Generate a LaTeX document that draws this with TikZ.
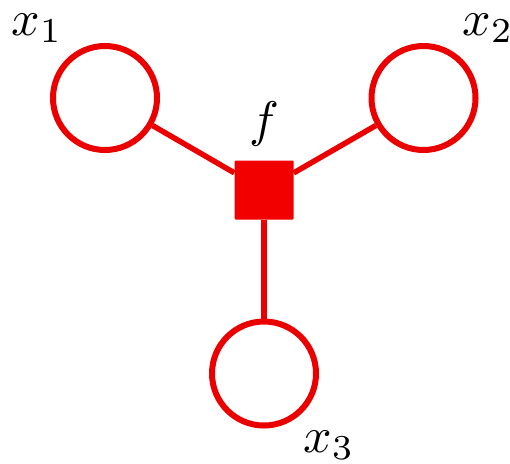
\documentclass[tikz,border=0pt]{standalone}
\begin{document}
\begin{tikzpicture}[x=1pt,y=-1pt,
  var/.style={circle,draw=red!92!black,line width=6pt,minimum size=104pt,inner sep=0pt},
  fac/.style={rectangle,fill=red!95!black,minimum size=59pt,inner sep=0pt,rounded corners=1pt},
  conn/.style={draw=red!92!black,line width=5.5pt},
  lab/.style={inner sep=0pt,scale=5}]
\useasboundingbox (0,0) rectangle (510,463);
\node[var] (x1) at (105,98) {};
\node[var] (x2) at (423.5,98) {};
\node[var] (x3) at (264,373.5) {};
\node[fac] (f) at (264,190) {};
\draw[conn] (x1) -- (f);
\draw[conn] (x2) -- (f);
\draw[conn] (x3) -- (f);
\node[lab] (l1) at (37,28) {$x_1$};
\node[lab] (l2) at (488,28) {$x_2$};
\node[lab] (l3) at (329,445) {$x_3$};
\node[lab] (lf) at (264,124) {$f$};
\end{tikzpicture}
\end{document}
